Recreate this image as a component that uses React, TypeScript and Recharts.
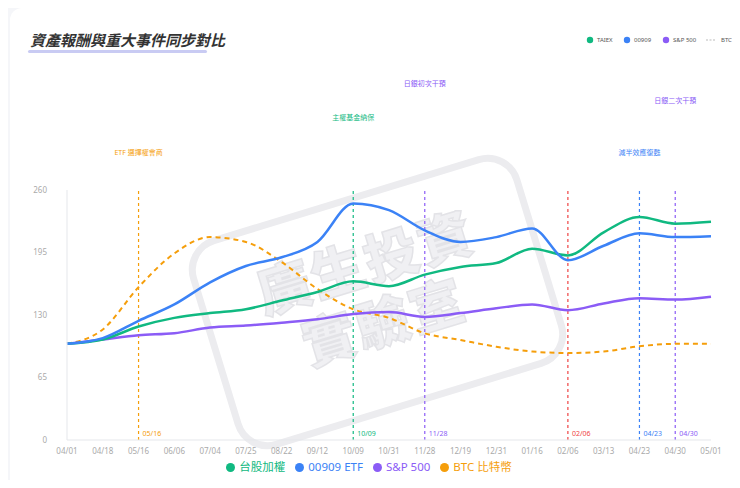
import { LineChart, Line, XAxis, YAxis, ReferenceLine, Legend } from "recharts";

const dates = [
  "04/01", "04/18", "05/16", "06/06", "07/04", "07/25", "08/22", "09/12", "10/09", "10/31",
  "11/28", "12/19", "12/31", "01/16", "02/06", "03/13", "04/23", "04/30", "05/01",
];
const taiex = [100, 104.5, 118, 127, 132, 136, 145, 154, 165, 160, 172, 180, 184, 199, 192, 216, 232, 225, 227];
const etf00909 = [100, 106, 124, 141, 164, 181, 190, 206, 246, 239, 218, 206, 211, 220, 187, 202, 215, 211, 212];
const sp500 = [100, 104.5, 109, 111, 117, 119, 122, 125.5, 131, 133, 128, 132, 137, 141, 135, 142, 147.5, 146, 149];
const btc = [100, 115, 159, 194, 211, 206, 185, 157, 136, 127, 111, 104, 97, 92, 90.5, 92, 97.5, 100, 100];
const yTicks = [0, 65, 130, 195, 260];

const seriesNames = ["台股加權", "00909 ETF", "S&P 500", "BTC 比特幣"];

const eventDates = ["05/16", "10/09", "11/28", "02/06", "04/23", "04/30"];
const eventNotes = ["ETF 選擇權會商", "主權基金納保", "日銀初次干預", "", "減半效應復甦", "日銀二次干預"];

const C = {
  green: "#10b981",
  blue: "#3b82f6",
  purple: "#8b5cf6",
  orange: "#f59e0b",
  red: "#ef4444",
};
const eventColors = [C.orange, C.green, C.purple, C.red, C.blue, C.purple];
// how far above the plot each note sits
const noteLift = [35, 70, 104, 0, 35, 87];

const data = dates.map((d, i) => ({
  date: d,
  taiex: taiex[i],
  etf: etf00909[i],
  sp: sp500[i],
  btc: btc[i],
}));

const FONT = "'Noto Sans', 'Noto Sans CJK TC', sans-serif";

const EventLabel = (props: any) => {
  const { viewBox, date, note, color, lift } = props;
  if (!viewBox) return null;
  const { x, y, height } = viewBox;
  return (
    <g fontFamily={FONT}>
      <text x={x + 4} y={y + height - 4} fill={color} fontSize={7}>
        {date}
      </text>
      {note ? (
        <text x={x} y={y - lift} fill={color} fontSize={7} textAnchor="middle">
          {note}
        </text>
      ) : null}
    </g>
  );
};

// small legend in the top-right corner, drawn as svg so tiny text stays tiny
const TopLegend = () => (
  <svg width={156} height={14} style={{ position: "absolute", left: 580, top: 33 }} fontFamily={FONT} fontSize={6}>
    <circle cx={10} cy={7} r={3.2} fill={C.green} />
    <text x={17} y={9.2} fill="#555">TAIEX</text>
    <circle cx={47} cy={7} r={3.2} fill={C.blue} />
    <text x={54} y={9.2} fill="#555">00909</text>
    <circle cx={86} cy={7} r={3.2} fill={C.purple} />
    <text x={93} y={9.2} fill="#555">S&amp;P 500</text>
    <line x1={126} x2={136} y1={7} y2={7} stroke="#bbb" strokeDasharray="2 1.5" />
    <text x={141} y={9.2} fill="#555">BTC</text>
  </svg>
);

const Watermark = () => (
  <div
    style={{
      position: "absolute",
      left: 205,
      top: 192,
      width: 345,
      height: 220,
      border: "7px solid #ececef",
      borderRadius: 34,
      transform: "rotate(-17deg)",
      color: "#f0f0f3",
      WebkitTextStroke: "1.5px #e3e3e7",
      fontFamily: "'Noto Sans CJK TC', sans-serif",
      fontWeight: 900,
      fontSize: 54,
      lineHeight: "62px",
      textAlign: "center",
      paddingTop: 28,
      boxSizing: "border-box",
      letterSpacing: 2,
    }}
  >
    <div>廣生投資</div>
    <div>實驗室</div>
  </div>
);

export default function App() {
  return (
    <div style={{ position: "relative", width: 740, height: 488, margin: -8, background: "#f5f6f9", overflow: "hidden" }}>
      <div
        style={{
          position: "absolute",
          left: 10,
          top: 8,
          right: 0,
          bottom: 0,
          background: "#fff",
          borderTopLeftRadius: 12,
        }}
      />
      <div
        style={{
          position: "absolute",
          left: 30,
          top: 29,
          fontFamily: "'Noto Sans CJK TC', sans-serif",
          fontSize: 15,
          fontWeight: 700,
          fontStyle: "italic",
          color: "#333",
        }}
      >
        資產報酬與重大事件同步對比
      </div>
      <div style={{ position: "absolute", left: 28, top: 50, width: 179, height: 3, background: "#c9cbf3", borderRadius: 2 }} />
      <TopLegend />
      <Watermark />
      <div style={{ position: "absolute", left: 0, top: 0 }}>
        <LineChart width={740} height={488} data={data} margin={{ top: 190, right: 29, left: 37, bottom: 14 }}>
          <XAxis
            dataKey="date"
            interval={0}
            tickLine={false}
            axisLine={{ stroke: "#e5e7eb" }}
            tick={{ fontSize: 8, fill: "#aaa", fontFamily: FONT }}
            height={18}
          />
          <YAxis
            domain={[0, 260]}
            ticks={yTicks}
            width={30}
            tickLine={false}
            tickMargin={14}
            axisLine={{ stroke: "#e5e7eb" }}
            tick={{ fontSize: 8, fill: "#aaa", fontFamily: FONT }}
          />
          {eventDates.map((d, i) => (
            <ReferenceLine
              key={d}
              x={d}
              stroke={eventColors[i]}
              strokeDasharray="3 3"
              strokeWidth={1.2}
              label={<EventLabel date={d} note={eventNotes[i]} color={eventColors[i]} lift={noteLift[i]} />}
            />
          ))}
          <Line type="monotone" dataKey="btc" name={seriesNames[3]} stroke={C.orange} strokeWidth={2} strokeDasharray="5 4" dot={false} isAnimationActive={false} />
          <Line type="monotone" dataKey="sp" name={seriesNames[2]} stroke={C.purple} strokeWidth={2.5} dot={false} isAnimationActive={false} />
          <Line type="monotone" dataKey="taiex" name={seriesNames[0]} stroke={C.green} strokeWidth={2.5} dot={false} isAnimationActive={false} />
          <Line type="monotone" dataKey="etf" name={seriesNames[1]} stroke={C.blue} strokeWidth={2.5} dot={false} isAnimationActive={false} />
          <Legend
            verticalAlign="bottom"
            iconType="circle"
            iconSize={9}
            itemSorter={(item: any) => seriesNames.indexOf(item.value)}
            wrapperStyle={{ fontSize: 11.5, fontFamily: FONT }}
            formatter={(value: string, entry: any) => <span style={{ color: entry.color }}>{value}</span>}
          />
        </LineChart>
      </div>
    </div>
  );
}
